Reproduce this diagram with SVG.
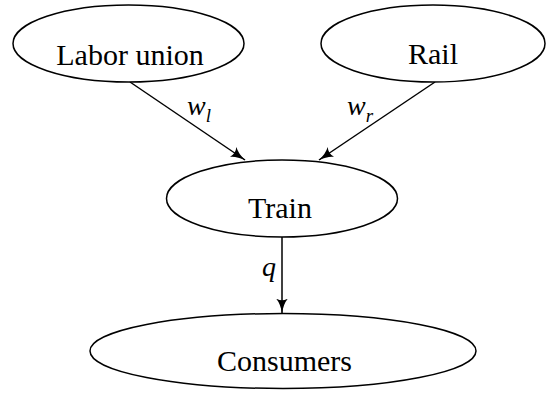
<svg xmlns="http://www.w3.org/2000/svg" width="546" height="394" viewBox="0 0 546 394">
<style>
.node ellipse{fill:#fff;stroke:#000;stroke-width:1.5}
.lbl{font-family:"Liberation Serif","DejaVu Serif",serif;font-size:30px;fill:#000;text-anchor:middle}
.math{font-family:"Liberation Serif","DejaVu Serif",serif;font-style:italic;font-size:28px;fill:#000}
.sub{font-size:19px}
.edge{stroke:#000;stroke-width:1.5;fill:none;marker-end:url(#arr)}
</style>
<defs>
<marker id="arr" viewBox="0 0 15 12" refX="14.5" refY="6" markerWidth="15" markerHeight="12" markerUnits="userSpaceOnUse" orient="auto">
<path d="M0,0 Q5,4.5 15,6 Q5,7.5 0,12 Q3.5,6 0,0 Z" fill="#000"/>
</marker>
</defs>
<g id="edges">
<line class="edge" x1="130" y1="82" x2="245" y2="160"/>
<line class="edge" x1="435" y1="82" x2="319" y2="160"/>
<line class="edge" x1="282" y1="237" x2="282" y2="313"/>
<text class="math" x="187" y="115">w<tspan class="sub" dy="7">l</tspan></text>
<text class="math" x="347" y="115">w<tspan class="sub" dy="7">r</tspan></text>
<text class="math" x="262" y="276">q</text>
</g>
<g id="labor" class="node">
<ellipse cx="128.5" cy="43.5" rx="115.5" ry="38.5"/>
<text class="lbl" x="130" y="65">Labor union</text>
</g>
<g id="rail" class="node">
<ellipse cx="433" cy="43.5" rx="112" ry="38.5"/>
<text class="lbl" x="433" y="64">Rail</text>
</g>
<g id="train" class="node">
<ellipse cx="282" cy="198.5" rx="115.5" ry="38.5"/>
<text class="lbl" x="280" y="218">Train</text>
</g>
<g id="consumers" class="node">
<ellipse cx="283" cy="351" rx="193" ry="37.5"/>
<text class="lbl" x="284.5" y="371">Consumers</text>
</g>
</svg>
